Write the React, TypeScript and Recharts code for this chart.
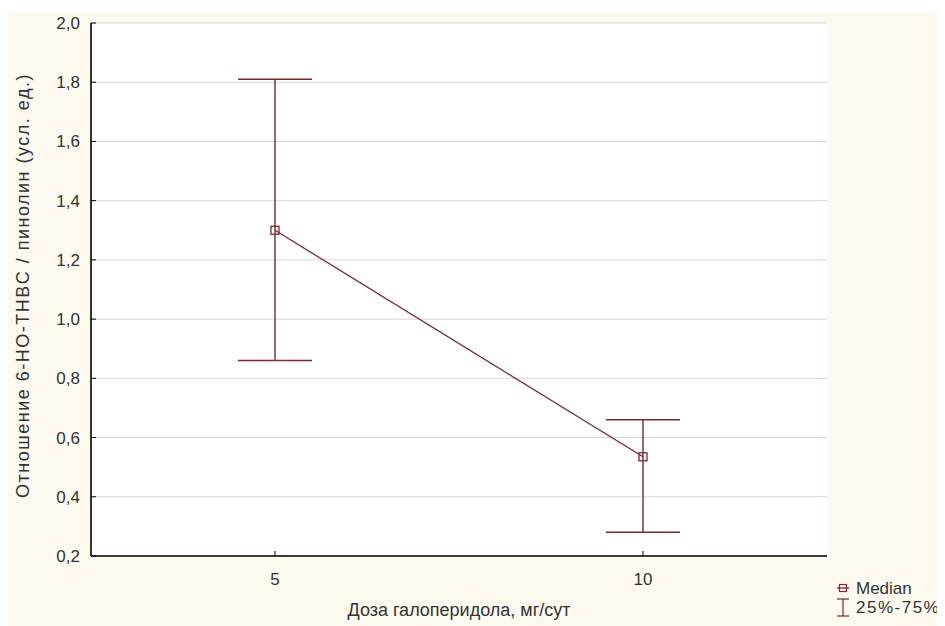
import React from 'react';
import { ComposedChart, Line, XAxis, YAxis, CartesianGrid, ErrorBar } from 'recharts';

const categories = ['5', '10'];
const medians = [1.3, 0.535];
const q25 = [0.86, 0.28];
const q75 = [1.81, 0.66];
const yTicks = [0.2, 0.4, 0.6, 0.8, 1.0, 1.2, 1.4, 1.6, 1.8, 2.0];
const legendLabels = ['Median', '25%-75%'];

const data = categories.map((c, i) => ({
  dose: c,
  median: medians[i],
  iqr: [medians[i] - q25[i], q75[i] - medians[i]],
}));

const LINE = '#7d2630';
const FONT = 'Arial, "Liberation Sans", sans-serif';
const fmt = (v: number) => v.toFixed(1).replace('.', ',');

const XTickBottom = (props: any) => {
  const { x, y, payload } = props;
  return (
    <g>
      <line x1={x} x2={x} y1={y} y2={y - 5} stroke="#000" strokeWidth={1} />
      <text x={x} y={y + 23} textAnchor="middle" dy="0.35em" fontSize={17} fontFamily={FONT} fill="#333">
        {payload.value}
      </text>
    </g>
  );
};

const XTickTop = (props: any) => {
  const { x, y } = props;
  return <line x1={x} x2={x} y1={y} y2={y + 5} stroke="#000" strokeWidth={1} />;
};

const YTick = (props: any) => {
  const { x, y, payload } = props;
  return (
    <g>
      <line x1={x} x2={x + 5} y1={y} y2={y} stroke="#000" strokeWidth={1} />
      <text x={x - 11} y={y} textAnchor="end" dy="0.35em" fontSize={17} fontFamily={FONT} fill="#333">
        {fmt(payload.value)}
      </text>
    </g>
  );
};

const SquareDot = (props: any) => {
  const { cx, cy } = props;
  if (cx == null || cy == null) return null;
  return <rect x={cx - 4} y={cy - 4} width={8} height={8} fill="none" stroke={LINE} strokeWidth={1.3} />;
};

const LegendBox = () => (
  <svg width={110} height={50} style={{ position: 'absolute', left: 827, top: 566, overflow: 'visible' }}>
    <line x1={2} x2={14} y1={10} y2={10} stroke={LINE} strokeWidth={1.3} />
    <rect x={4.5} y={6.5} width={7} height={7} fill="none" stroke={LINE} strokeWidth={1.2} />
    <text x={21} y={10} dy="0.35em" fontSize={17} fontFamily={FONT} fill="#333">{legendLabels[0]}</text>
    <line x1={2} x2={14} y1={21} y2={21} stroke={LINE} strokeWidth={1.2} />
    <line x1={8} x2={8} y1={21} y2={38} stroke={LINE} strokeWidth={1.2} />
    <line x1={2} x2={14} y1={38} y2={38} stroke={LINE} strokeWidth={1.2} />
    <text x={21} y={29} dy="0.35em" fontSize={17} fontFamily={FONT} fill="#333" letterSpacing={1.5}>{legendLabels[1]}</text>
  </svg>
);

export default function App() {
  return (
    <div style={{ position: 'relative', marginTop: 4, width: 937, height: 614, background: '#fdf9ee' }}>
      <ComposedChart width={937} height={614} data={data} margin={{ top: 11, right: 118, bottom: 40, left: 0 }}>
        <CartesianGrid horizontal vertical={false} stroke="#d6d6d6" fill="#ffffff" />
        <XAxis
          dataKey="dose"
          height={30}
          padding={{ left: 184, right: 184 }}
          tickSize={0}
          tickMargin={0}
          tickLine={false}
          tick={<XTickBottom />}
          axisLine={{ stroke: '#000', strokeWidth: 1.6 }}
          label={{ value: 'Доза галоперидола, мг/сут', position: 'bottom', offset: 17, fontSize: 18, fontFamily: FONT, fill: '#333' }}
        />
        <XAxis
          xAxisId="top"
          orientation="top"
          dataKey="dose"
          height={0}
          padding={{ left: 184, right: 184 }}
          tickSize={0}
          tickMargin={0}
          tickLine={false}
          tick={<XTickTop />}
          axisLine={{ stroke: '#000', strokeWidth: 1.6 }}
        />
        <YAxis
          width={83}
          domain={[0.2, 2.0]}
          ticks={yTicks}
          type="number"
          allowDataOverflow
          tickSize={0}
          tickMargin={0}
          tickLine={false}
          tick={<YTick />}
          axisLine={{ stroke: '#000', strokeWidth: 1.6 }}
          label={{ value: 'Отношение 6-HO-THBC / пинолин (усл. ед.)', angle: -90, position: 'center', dx: -27, dy: -4, fontSize: 18, letterSpacing: 1.5, fontFamily: FONT, fill: '#333' }}
        />
        <YAxis
          yAxisId="right"
          orientation="right"
          width={0}
          domain={[0.2, 2.0]}
          type="number"
          tick={false}
          tickLine={false}
          axisLine={{ stroke: '#000', strokeWidth: 1.6 }}
        />
        <Line
          dataKey="median"
          stroke={LINE}
          strokeWidth={1.3}
          dot={<SquareDot />}
          activeDot={false}
          isAnimationActive={false}
        >
          <ErrorBar dataKey="iqr" direction="y" width={37} stroke={LINE} strokeWidth={1.4} isAnimationActive={false} />
        </Line>
      </ComposedChart>
      <LegendBox />
    </div>
  );
}
